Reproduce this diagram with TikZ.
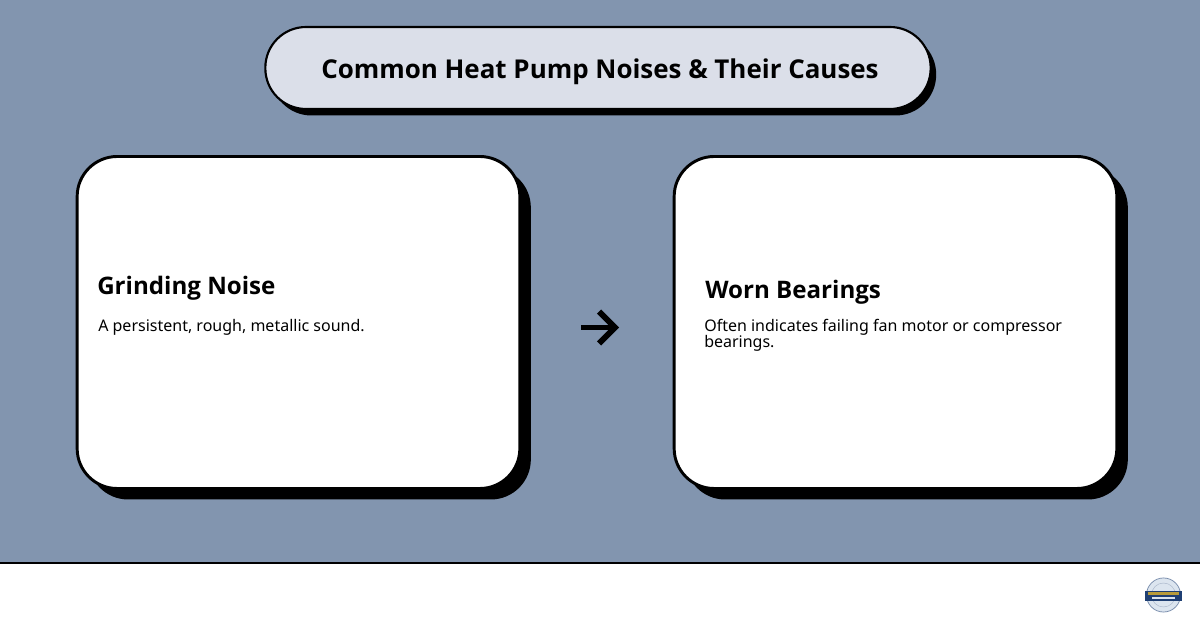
\documentclass[tikz,border=0pt]{standalone}
\usepackage{fontspec}
\setmainfont{Noto Sans}
\newfontfamily\headfont{Open Sans}
\usepackage{xcolor}
\definecolor{slateback}{HTML}{8295AF}
\definecolor{titlefill}{HTML}{DBDFE9}
\definecolor{logonavy}{HTML}{1F3F73}
\definecolor{logogold}{HTML}{B89B3A}
\definecolor{logoring}{HTML}{DCE5EF}
\tikzset{
	cardbox/.style={draw=black, line width=2.2pt, fill=white, rounded corners=30pt, minimum width=332pt, minimum height=249pt, inner sep=0pt},
	cardshade/.style={fill=black, rounded corners=30pt, minimum width=332pt, minimum height=249pt, inner sep=0pt},
	titlebox/.style={draw=black, line width=1.6pt, fill=titlefill, rounded corners=30.5pt, minimum width=499pt, minimum height=61.5pt, inner sep=0pt},
	titleshade/.style={fill=black, rounded corners=30.5pt, minimum width=499pt, minimum height=61.5pt, inner sep=0pt},
	headtext/.style={anchor=base west, inner sep=0pt, font=\fontsize{18.1pt}{22pt}\headfont\bfseries},
	bodytext/.style={anchor=base west, inner sep=0pt, align=left, font=\fontsize{12pt}{12pt}\selectfont}
}

\begin{document}
\begin{tikzpicture}[x=0.75pt,y=-0.75pt]
\useasboundingbox (0,0) rectangle (1200,630);
\fill [slateback] (0,0) rectangle (1200,562);
\fill [white] (0,562) rectangle (1200,630);
\draw [line width=1.5pt] (0,563) -- (1200,563);

\node [titleshade] (titleback) at (603.5,74.5) {};
\node [titlebox] (title) at (598,68) {};
\node [font=\fontsize{19.45pt}{24pt}\headfont\bfseries, inner sep=0pt] (titletext) at (600,71.5) {Common Heat Pump Noises \& Their Causes};

\node [cardshade] (noiseback) at (309.5,333.5) {};
\node [cardbox] (noise) at (298.5,322.5) {};
\node [cardshade] (causeback) at (906.5,333.5) {};
\node [cardbox] (cause) at (895.5,322.5) {};

\node [headtext] (noisehead) at (97,295) {Grinding Noise};
\node [bodytext] (noisebody) at (98,332) {A persistent, rough, metallic sound.};
\node [headtext] (causehead) at (705,299) {Worn Bearings};
\node [bodytext, anchor=north west] (causebody) at (704,319) {Often indicates failing fan motor or compressor\\bearings.};

\coordinate (arrowtail) at (581,327.5);
\coordinate (arrowtip) at (615,327.5);
\coordinate (arrowtop) at (599,311.5);
\coordinate (arrowbot) at (599,343.5);
\draw [line width=4.3pt] (arrowtail) -- (arrowtip);
\draw [line width=4.3pt, miter limit=10] (arrowtop) -- (arrowtip) -- (arrowbot);

% logo
\fill [logoring] (1163.5,595) circle (17.5);
\draw [logonavy!60!white, line width=.5pt] (1163.5,595) circle (17);
\draw [logonavy!40!white, line width=.3pt] (1163.5,595) circle (12);
\fill [logonavy] (1145,591) rectangle (1182,601);
\fill [logogold] (1148,592.5) rectangle (1179,595.5);
\fill [logoring] (1152,597.5) rectangle (1175,599.5);
\end{tikzpicture}
\end{document}
